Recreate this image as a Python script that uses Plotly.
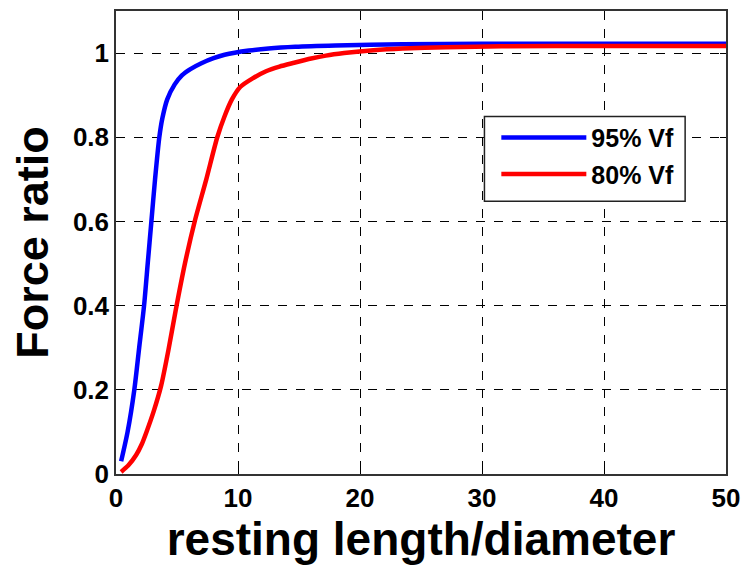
import plotly.graph_objects as go

# Force ratio vs. resting length/diameter for two fibre volume fractions
x_95 = [0.42, 0.95, 1.5, 1.9, 2.3, 2.6, 2.9, 3.2, 3.55, 3.8, 4.2, 4.8, 5.4,
        6.1, 7.0, 8.0, 8.9, 10.9, 12.5, 14.7, 18.0, 23.5, 30.0, 40.0, 50.0]
y_95 = [0.03, 0.1, 0.2, 0.3, 0.4, 0.5, 0.6, 0.7, 0.8, 0.845, 0.89, 0.925, 0.947,
        0.962, 0.976, 0.988, 0.996, 1.006, 1.011, 1.015, 1.018, 1.021, 1.022,
        1.022, 1.022]

x_80 = [0.42, 1.0, 1.65, 2.1, 2.5, 3.1, 3.7, 4.3, 4.9, 5.65, 6.45, 7.4, 8.3,
        8.9, 9.5, 10.2, 11.2, 12.3, 13.4, 14.6, 16.0, 17.2, 18.7, 21.1, 23.5,
        27.0, 31.6, 40.0, 50.0]
y_80 = [0.005, 0.02, 0.045, 0.07, 0.1, 0.15, 0.21, 0.295, 0.39, 0.5, 0.6, 0.7,
        0.8, 0.85, 0.89, 0.92, 0.94, 0.957, 0.968, 0.977, 0.987, 0.994, 1.0,
        1.007, 1.011, 1.014, 1.016, 1.017, 1.017]

x_ticks = [0, 10, 20, 30, 40, 50]
y_ticks = [0, 0.2, 0.4, 0.6, 0.8, 1.0]
y_tick_text = ["0", "0.2", "0.4", "0.6", "0.8", "1"]

FONT = "Liberation Sans, Arial, sans-serif"

fig = go.Figure()
fig.add_trace(go.Scatter(x=x_95, y=y_95, mode="lines", name="95% Vf",
                         legendgroup="a",
                         line=dict(color="#0000ff", width=4.5,
                                   shape="spline", smoothing=0.7)))
fig.add_trace(go.Scatter(x=x_80, y=y_80, mode="lines", name="80% Vf",
                         legendgroup="b",
                         line=dict(color="#ff0000", width=4.5,
                                   shape="spline", smoothing=0.7)))

axis_common = dict(
    showline=True, mirror="ticks", linecolor="#333333", linewidth=1.5,
    ticks="inside", ticklen=6, tickcolor="black", tickwidth=1,
    showgrid=True, gridcolor="black", griddash="dash", gridwidth=1,
    zeroline=False,
    tickfont=dict(family=FONT, size=26, color="black", weight="bold"),
)

fig.update_xaxes(range=[0, 50], tickvals=x_ticks,
                 title=dict(text="resting length/diameter", standoff=4,
                            font=dict(family=FONT, size=46, color="black", weight="bold")),
                 **axis_common)
fig.update_yaxes(range=[0, 1.1], tickvals=y_ticks, ticktext=y_tick_text,
                 title=dict(text="Force ratio", standoff=10,
                            font=dict(family=FONT, size=45, color="black", weight="bold")),
                 **axis_common)

# Framed white box behind the legend entries
fig.add_shape(type="rect", xref="paper", yref="paper",
              x0=0.604, x1=0.933, y0=0.589, y1=0.772,
              fillcolor="white", line=dict(color="#222222", width=1.5),
              layer="above")

fig.update_layout(
    width=749, height=567,
    margin=dict(l=116, r=19, t=9, b=93),
    paper_bgcolor="white", plot_bgcolor="white",
    showlegend=True,
    legend=dict(x=0.6235, y=0.776, xanchor="left", yanchor="top",
                bgcolor="rgba(0,0,0,0)", borderwidth=0,
                tracegroupgap=1, itemwidth=85,
                font=dict(family=FONT, size=25, color="black", weight="bold")),
)

fig.write_html("out.html")
